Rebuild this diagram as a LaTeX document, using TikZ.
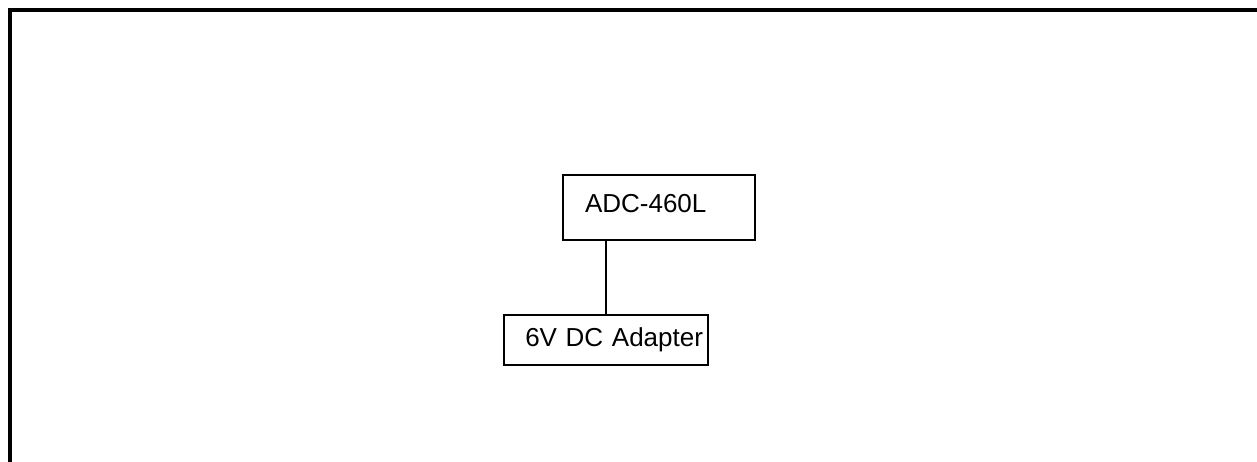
\documentclass[tikz,border=0pt]{standalone}
\usepackage{fontspec}
\setmainfont{Liberation Sans}
\usetikzlibrary{positioning}
\tikzset{
  devbox/.style={
    rectangle, draw=black, line width=2pt, fill=white,
    font=\fontsize{26}{30}\selectfont
  },
  wire/.style={line width=2pt, color=black},
  frameline/.style={line width=4pt, color=black},
}
\begin{document}
\begin{tikzpicture}[x=1pt, y=-1pt]
  \useasboundingbox (0,0) rectangle (1257,462);
  \draw[frameline] (1257,10) -| (10,462);
  \node[devbox, minimum width=192pt, minimum height=65pt, text width=148pt,
        inner xsep=22pt, align=left, text depth=9pt] (adc) at (659,207.5) {ADC-460L};
  \node[devbox, minimum width=204pt, minimum height=50pt, text width=194pt,
        inner xsep=5pt, align=right] (adapter) at (606,340) {6V DC Adapter};
  \draw[wire] (adapter.north) -- (adapter.north |- adc.south);
\end{tikzpicture}
\end{document}
